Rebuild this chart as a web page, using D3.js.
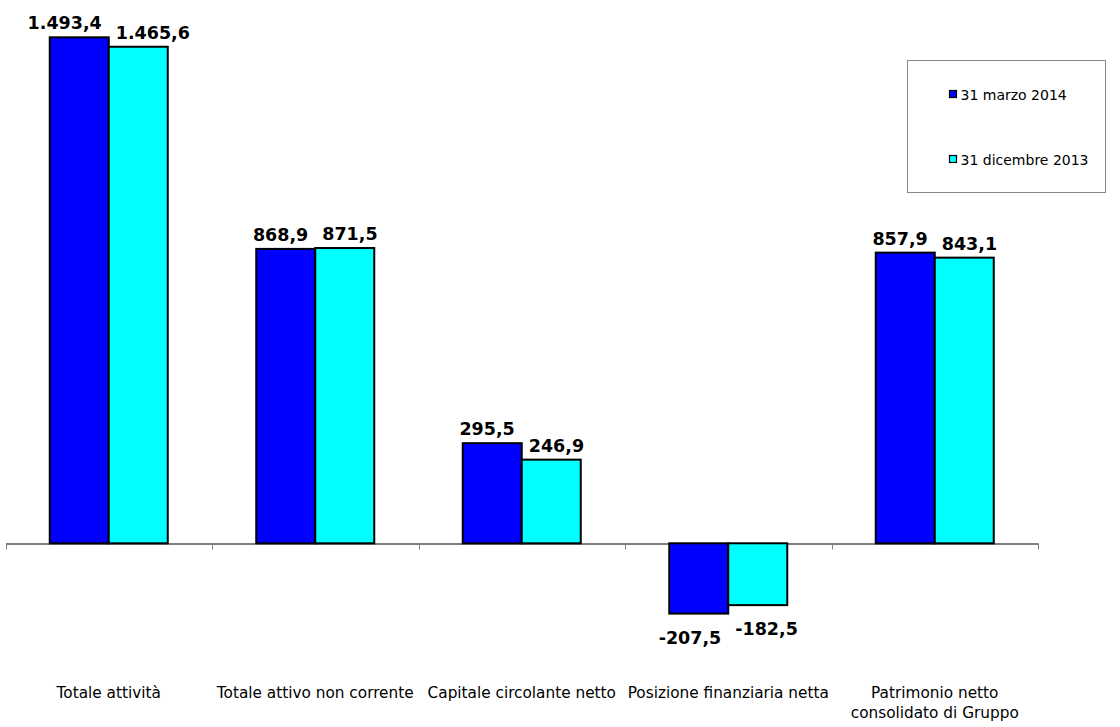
<!DOCTYPE html>
<html>
<head>
<meta charset="utf-8">
<script src="https://cdn.jsdelivr.net/npm/d3@7"></script>
<style>
  body { margin: 0; background: #fff; }
  .valueLabel { font-family: "DejaVu Sans", Verdana, sans-serif; font-weight: bold; font-size: 17.5px; fill: #000; }
  .catLabel { font-family: "DejaVu Sans", Verdana, sans-serif; font-size: 15.3px; fill: #000; }
  .legendText { font-family: "DejaVu Sans", Verdana, sans-serif; font-size: 14px; fill: #000; }
</style>
</head>
<body>
<div id="chart"></div>
<script>
const width = 1120,
    height = 727

// dati
const categories = [
  ["Totale attività"],
  ["Totale attivo non corrente"],
  ["Capitale circolante netto"],
  ["Posizione finanziaria netta"],
  ["Patrimonio netto", "consolidato di Gruppo"]
]
const seriesNames = ["31 marzo 2014", "31 dicembre 2013"]
const marzo2014 = [1493.4, 868.9, 295.5, -207.5, 857.9]
const dicembre2013 = [1465.6, 871.5, 246.9, -182.5, 843.1]
const colors = ["#0000FF", "#00FFFF"]

const series = [marzo2014, dicembre2013]
const catKeys = categories.map(c => c.join(" "))

const fmt = d3.formatLocale({ decimal: ",", thousands: ".", grouping: [3], currency: ["", "€"], minus: "-" }).format(",.1f")

var svg = d3.select("#chart").append("svg")
  .attr("width", width)
  .attr("height", height)

// scale: zero a y=543
var x0 = d3.scaleBand()
  .domain(catKeys)
  .range([5.5, 1038])
  .paddingInner(0)
  .paddingOuter(0)

var x1 = d3.scaleBand()
  .domain(d3.range(series.length))
  .range([0, x0.bandwidth()])
  .paddingInner(0)
  .paddingOuter(0.75)

var y = d3.scaleLinear()
  .domain([-500, 1600])
  .range([712.7, 1.2])

// asse x
var xAxis = d3.axisBottom(x0)
  .tickValues([])
  .tickSizeOuter(0)

var axisG = svg.append("g")
  .attr("transform", `translate(0, ${Math.round(y(0)) + 0.5})`)
  .call(xAxis)
axisG.select(".domain").attr("stroke", "#000")

// tacche fra le categorie
var tickPos = catKeys.map(k => x0(k)).concat([x0.range()[1]])
axisG.selectAll(".sep")
  .data(tickPos)
  .enter()
  .append("line")
  .attr("class", "sep")
  .attr("x1", d => Math.round(d) + 0.5)
  .attr("x2", d => Math.round(d) + 0.5)
  .attr("y1", 0)
  .attr("y2", 6)
  .attr("stroke", "#808080")

// barre
var rows = []
catKeys.forEach((k, i) => {
  series.forEach((s, j) => {
    rows.push({ key: k, cat: i, s: j, value: s[i] })
  })
})

var groups = svg.selectAll(".group")
  .data(catKeys)
  .enter()
  .append("g")
  .attr("class", "group")
  .attr("transform", d => `translate(${x0(d)}, 0)`)

groups.selectAll("rect")
  .data(d => rows.filter(r => r.key === d))
  .enter()
  .append("rect")
  .attr("x", d => x1(d.s))
  .attr("width", x1.bandwidth())
  .attr("y", d => y(Math.max(0, d.value)))
  .attr("height", d => Math.abs(y(d.value) - y(0)))
  .attr("fill", d => colors[d.s])
  .attr("stroke", "#000")
  .attr("stroke-width", 2)

// etichette dei valori
var labels = groups.selectAll(".valueLabel")
  .data(d => rows.filter(r => r.key === d))
  .enter()
  .append("text")
  .attr("class", "valueLabel")
  .attr("text-anchor", "middle")
  .attr("x", d => x1(d.s) + x1.bandwidth() / 2)
  .attr("y", d => d.value >= 0 ? y(d.value) - 8 : y(d.value) + 30)
  .text(d => fmt(d.value))

// se le due etichette sono troppo vicine le allargo
groups.each(function () {
  var t = d3.select(this).selectAll(".valueLabel").nodes()
  var a = t[0], b = t[1]
  var wa = a.getComputedTextLength(), wb = b.getComputedTextLength()
  var xa = +a.getAttribute("x"), xb = +b.getAttribute("x")
  var need = (wa + wb) / 2 + 14
  if (xb - xa < need) {
    var shift = (need - (xb - xa)) / 2
    a.setAttribute("x", xa - shift)
    b.setAttribute("x", xb + shift)
  }
})

// etichette categorie
var catText = svg.selectAll(".catLabel")
  .data(categories)
  .enter()
  .append("text")
  .attr("class", "catLabel")
  .attr("text-anchor", "middle")
  .attr("x", (d, i) => x0(catKeys[i]) + x0.bandwidth() / 2)
  .attr("y", 698)

catText.selectAll("tspan")
  .data(d => d)
  .enter()
  .append("tspan")
  .attr("x", function () { return d3.select(this.parentNode).attr("x") })
  .attr("dy", (d, i) => i === 0 ? 0 : 20)
  .text(d => d)

// legenda
var legend = svg.append("g").attr("transform", "translate(907.5, 60.5)")
legend.append("rect")
  .attr("width", 198)
  .attr("height", 132)
  .attr("fill", "#fff")
  .attr("stroke", "#888")
  .attr("stroke-width", 1)

var items = legend.selectAll(".item")
  .data(seriesNames)
  .enter()
  .append("g")
  .attr("class", "item")
  .attr("transform", (d, i) => `translate(42, ${30 + i * 65})`)

items.append("rect")
  .attr("width", 7)
  .attr("height", 7)
  .attr("fill", (d, i) => colors[i])
  .attr("stroke", "#000")
  .attr("stroke-width", 1.2)

items.append("text")
  .attr("class", "legendText")
  .attr("x", 11)
  .attr("y", 9)
  .text(d => d)
</script>
</body>
</html>
